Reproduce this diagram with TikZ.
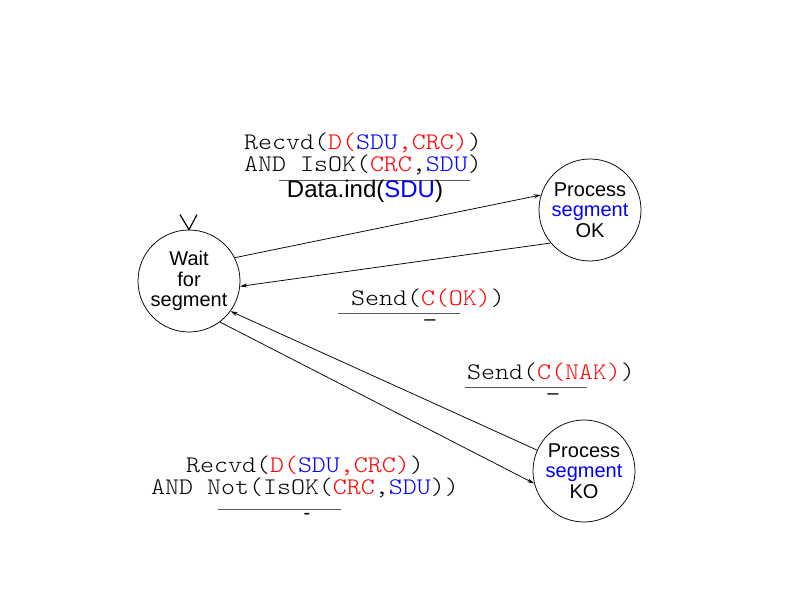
\documentclass[tikz,border=0pt]{standalone}
\usepackage{fontspec}
\setmainfont{Liberation Sans}
\newfontfamily\codefont[FakeStretch=1.12]{Latin Modern Mono Light}
\usetikzlibrary{arrows.meta}

\newcommand{\inred}[1]{\textcolor{red}{#1}}
\newcommand{\inblue}[1]{\textcolor{blue}{#1}}

\tikzset{
  state/.style={circle, draw, line width=0.75bp, minimum size=102bp, inner sep=0pt,
    align=center, font=\fontsize{20bp}{20.5bp}\selectfont},
  code/.style={font=\codefont\fontsize{23.8bp}{22bp}\selectfont, inner sep=0pt, anchor=base},
  action/.style={font=\fontsize{24bp}{24bp}\selectfont, inner sep=0pt, anchor=base},
  nothing/.style={font=\fontsize{20bp}{20bp}\selectfont, inner sep=0pt, anchor=base},
  bar/.style={draw=black!65, line width=1bp},
  trans/.style={draw, line width=0.75bp, -{Stealth[length=7bp,width=4bp]}},
}

\begin{document}
\begin{tikzpicture}[x=1bp,y=-1bp]
\useasboundingbox (0,0) rectangle (793,595);
% states
\node[state] (wait) at (189,281) {Wait\\for\\segment};
\node[state] (ok) at (590,210) {Process\\\inblue{segment}\\OK};
\node[state] (ko) at (584,471) {Process\\\inblue{segment}\\KO};
% initial state
\draw[line width=1.2bp] (wait.north) ++(-9,-15) -- (wait.north) -- ++(8,-15);
% transitions
\draw[trans] (wait.27) -- (ok.163);
\draw[trans] (ok.220) -- (wait.-6);
\draw[trans] (ko.156) -- (wait.-36);
\draw[trans] (wait.-53) -- (ko.194);
% wait -> ok
\node[code] (okin1) at (363,150) {Recvd(\inred{D(}\inblue{SDU}\inred{,CRC)})};
\node[code] (okin2) at (363,172) {AND IsOK(\inred{CRC},\inblue{SDU})};
\draw[bar] (279,181) -- (470,181);
\node[action] (okout) at (365,198) {Data.ind(\inblue{SDU})};
% ok -> wait
\node[code] (okack) at (428,305) {Send(\inred{C(OK)})};
\draw[bar] (338,313) -- (460,313);
\node[nothing] (okackout) at (430,325.5) {--};
% ko -> wait
\node[code] (koack) at (551,379) {Send(\inred{C(NAK)})};
\draw[bar] (465,387) -- (587,387);
\node[nothing] (koackout) at (553,399.5) {--};
% wait -> ko
\node[code] (koin1) at (305,472) {Recvd(\inred{D(}\inblue{SDU}\inred{,CRC)})};
\node[code] (koin2) at (305,494) {AND Not(IsOK(\inred{CRC},\inblue{SDU}))};
\draw[bar] (218,509) -- (341,509);
\node[nothing] (koout) at (307,519.5) {-};
\end{tikzpicture}
\end{document}
